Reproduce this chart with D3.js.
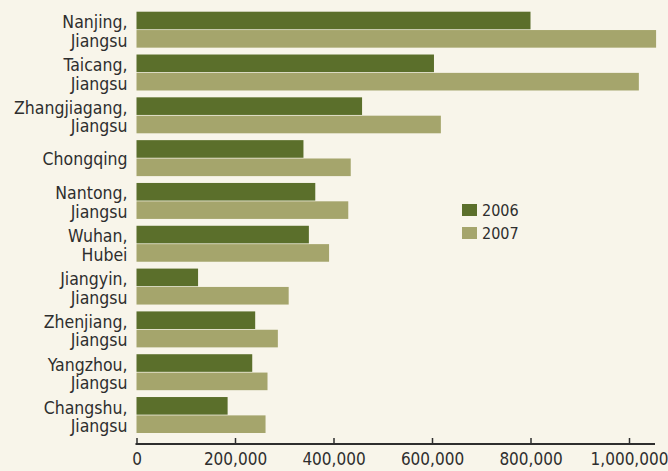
<!DOCTYPE html>
<html>
<head>
<meta charset="utf-8">
<script src="https://cdn.jsdelivr.net/npm/d3@7"></script>
<style>
  body { margin: 0; background: #f8f5ea; }
  svg { display: block; }
  text { font-family: "DejaVu Sans Condensed", "Liberation Sans Narrow", sans-serif; fill: #2e2e2e; }
</style>
</head>
<body>
<svg id="chart"></svg>
<script>
// ports, throughput (TEU) by year
const cities = [
  ["Nanjing,", "Jiangsu"],
  ["Taicang,", "Jiangsu"],
  ["Zhangjiagang,", "Jiangsu"],
  ["Chongqing"],
  ["Nantong,", "Jiangsu"],
  ["Wuhan,", "Hubei"],
  ["Jiangyin,", "Jiangsu"],
  ["Zhenjiang,", "Jiangsu"],
  ["Yangzhou,", "Jiangsu"],
  ["Changshu,", "Jiangsu"],
];
const values2006 = [800000, 604000, 458000, 339000, 363000, 350000, 125000, 241000, 235000, 185000];
const values2007 = [1055000, 1020000, 618000, 435000, 430000, 391000, 309000, 287000, 266000, 262000];
const years = ["2006", "2007"];
const xTicks = [0, 200000, 400000, 600000, 800000, 1000000];

const width = 668, height = 471;
const colors = { "2006": "#5b6f2b", "2007": "#a5a56c" };

const svg = d3.select("#chart").attr("width", width).attr("height", height);

const keys = cities.map((c) => c.join(" "));
const data = keys.map((k, i) => ({ key: k, lines: cities[i], "2006": values2006[i], "2007": values2007[i] }));

const x = d3.scaleLinear().domain([0, 1000000]).range([136.5, 629]);
const y = d3.scaleBand().domain(keys).range([11.7, 433]).paddingInner(0.16).paddingOuter(0);
const ySub = d3.scaleBand().domain(years).range([0, y.bandwidth()]).paddingInner(0.04);

const groups = svg.append("g")
  .selectAll("g")
  .data(data)
  .join("g")
  .attr("transform", (d) => `translate(0,${y(d.key)})`);

groups.selectAll("rect")
  .data((d) => years.map((yr) => ({ yr, v: d[yr] })))
  .join("rect")
  .attr("x", x(0))
  .attr("y", (d) => ySub(d.yr))
  .attr("width", (d) => x(d.v) - x(0))
  .attr("height", ySub.bandwidth())
  .attr("fill", (d) => colors[d.yr]);

// category labels, one or two lines
groups.append("text")
  .attr("text-anchor", "end")
  .attr("font-size", 17.5)
  .selectAll("tspan")
  .data((d) => d.lines.map((l, i) => ({ l, i, n: d.lines.length })))
  .join("tspan")
  .attr("x", 127.5)
  .attr("y", (d) => d.n === 1 ? y.bandwidth() / 2 + 6.5 : 16.5 + d.i * 18.5)
  .text((d) => d.l);

// x axis
const axis = svg.append("g")
  .attr("transform", "translate(0,444)")
  .call(d3.axisBottom(x).tickValues(xTicks).tickSize(-6).tickPadding(9).tickFormat(d3.format(",")));
axis.select(".domain").attr("d", `M${x(0) - 1},0H655`).attr("stroke", "#2e2e2e").attr("stroke-width", 2);
axis.selectAll(".tick line").attr("stroke", "#2e2e2e").attr("stroke-width", 1.5);
axis.selectAll(".tick text").attr("font-size", 17).attr("dy", "0.71em")
  .style("font-family", "'DejaVu Sans Condensed', 'Liberation Sans Narrow', sans-serif").attr("fill", "#2e2e2e");

// legend
const legend = svg.append("g").attr("transform", "translate(462,204)");
const item = legend.selectAll("g")
  .data(years)
  .join("g")
  .attr("transform", (d, i) => `translate(0,${i * 23})`);
item.append("rect").attr("width", 15).attr("height", 12).attr("fill", (d) => colors[d]);
item.append("text").attr("x", 20).attr("y", 11.7).attr("font-size", 16).text((d) => d);
</script>
</body>
</html>
